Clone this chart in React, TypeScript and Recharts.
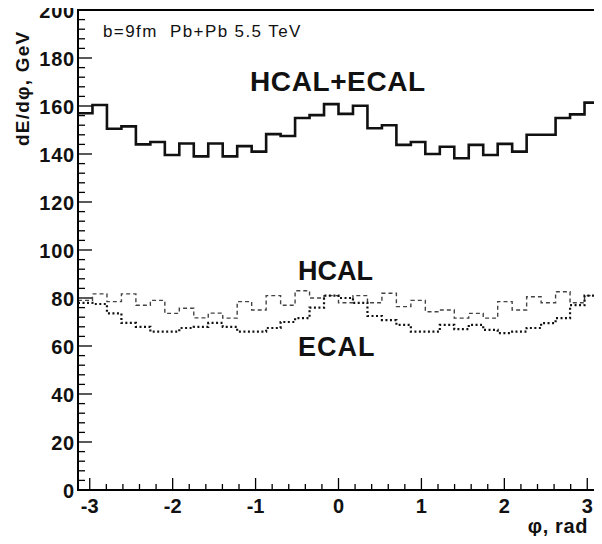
import React from 'react';
import { LineChart, Line, XAxis, YAxis, ReferenceArea } from 'recharts';

// energy flow per 10-degree azimuthal bin, phi from -pi to pi
const TOTAL = [
  157, 160.4, 150.5, 151.5, 144, 145, 139.6, 144.4, 139, 144.4, 139, 143.3,
  141, 148.3, 147.5, 155, 156.2, 160.8, 156.7, 160.1, 150.7, 152, 143.8, 145,
  140, 143, 138.2, 143.8, 139.6, 144.2, 141, 148, 148, 155, 156.5, 161.4,
];
const HCAL = [
  79, 81.7, 78.5, 81.7, 77, 79, 73.6, 75.7, 71.7, 73.7, 71.6, 78.5,
  75, 81, 77, 83, 80, 81, 78, 81, 78, 82, 76.4, 79,
  74.3, 75, 71.6, 73.6, 71.6, 78.5, 75, 80.5, 78, 82.6, 78, 81,
];
const ECAL = [
  78, 77.5, 73.6, 69.6, 68, 66, 66, 67.5, 68, 69.6, 68, 66,
  66, 67.5, 70, 71.6, 76, 81, 80, 78, 72.5, 70.8, 68.8, 66,
  66, 68.8, 67, 68.8, 66.7, 65.4, 66, 67.5, 69.5, 71.6, 77, 81,
];

const PHI_MIN = -Math.PI;
const PHI_MAX = Math.PI;
const X_MAJOR = [-3, -2, -1, 0, 1, 2, 3];
const Y_MAJOR = [0, 20, 40, 60, 80, 100, 120, 140, 160, 180, 200];

const FONT = '"Liberation Sans", Arial, Helvetica, sans-serif';

const binWidth = (PHI_MAX - PHI_MIN) / TOTAL.length;
const last = TOTAL.length - 1;
const data = TOTAL.map((v, i) => ({
  phi: PHI_MIN + i * binWidth,
  total: v,
  hcal: HCAL[i],
  ecal: ECAL[i],
}));
// closing edge so the last bin gets its horizontal step
data.push({ phi: PHI_MAX, total: TOTAL[last], hcal: HCAL[last], ecal: ECAL[last] });

// ROOT-style minor divisions
const xTicks: number[] = [];
for (let i = -15; i <= 15; i++) xTicks.push(i / 5);
const yTicks: number[] = [];
for (let v = 0; v <= 200; v += 4) yTicks.push(v);

const XTick = (props: any) => {
  const { x, y, payload } = props;
  const v = payload.value;
  const major = X_MAJOR.includes(v);
  return (
    <g>
      <line x1={x} x2={x} y1={y} y2={y - (major ? 12 : 6)} stroke="#000" strokeWidth={1.3} />
      {major && (
        <text x={x} y={y + 23} textAnchor="middle" fontFamily={FONT} fontWeight="bold" fontSize={20} fill="#111">
          {String(v)}
        </text>
      )}
    </g>
  );
};

const YTick = (props: any) => {
  const { x, y, payload } = props;
  const v = payload.value;
  const major = Y_MAJOR.includes(v);
  return (
    <g>
      <line x1={x} x2={x + (major ? 14 : 7)} y1={y} y2={y} stroke="#000" strokeWidth={1.3} />
      {major && (
        <text x={x - 3} y={y + 8} textAnchor="end" fontFamily={FONT} fontWeight="bold" fontSize={20} letterSpacing={0.8} fill="#111">
          {v}
        </text>
      )}
    </g>
  );
};

const tag = (pos: any, size: number, bold: boolean, text: string, extra: any = {}) => (
  <div
    style={{
      position: 'absolute',
      ...pos,
      fontFamily: FONT,
      fontSize: size,
      fontWeight: bold ? 'bold' : 'normal',
      lineHeight: 1,
      whiteSpace: 'pre',
      color: '#111',
      ...extra,
    }}
  >
    {text}
  </div>
);

export default function App() {
  return (
    <div style={{ position: 'relative', width: 602, height: 544, margin: -8, background: '#fff' }}>
      <LineChart width={602} height={544} data={data} margin={{ top: 10, right: 3, left: 16, bottom: 0 }}>
        <XAxis
          dataKey="phi"
          type="number"
          domain={[PHI_MIN, PHI_MAX]}
          ticks={xTicks}
          interval={0}
          height={54}
          tickSize={0}
          tickMargin={0}
          tickLine={false}
          axisLine={{ stroke: '#000', strokeWidth: 2 }}
          tick={XTick}
          allowDataOverflow
        />
        <YAxis
          type="number"
          domain={[0, 200]}
          ticks={yTicks}
          interval={0}
          width={62}
          tickSize={0}
          tickMargin={0}
          tickLine={false}
          axisLine={{ stroke: '#000', strokeWidth: 2 }}
          tick={YTick}
          allowDataOverflow
        />
        <ReferenceArea
          x1={PHI_MIN}
          x2={PHI_MAX}
          y1={0}
          y2={200}
          fill="none"
          fillOpacity={0}
          stroke="#000"
          strokeWidth={2}
        />
        <Line
          type="stepAfter"
          dataKey="total"
          stroke="#111"
          strokeWidth={2.6}
          dot={false}
          isAnimationActive={false}
        />
        <Line
          type="stepAfter"
          dataKey="hcal"
          stroke="#444"
          strokeWidth={1.4}
          strokeDasharray="4 3"
          dot={false}
          isAnimationActive={false}
        />
        <Line
          type="stepAfter"
          dataKey="ecal"
          stroke="#111"
          strokeWidth={2.2}
          strokeDasharray="2 2.5"
          dot={false}
          isAnimationActive={false}
        />
      </LineChart>

      {tag({ top: 23, left: 103 }, 17, false, 'b=9fm  Pb+Pb 5.5 TeV', { letterSpacing: 1.4 })}
      {tag({ top: 68, left: 250 }, 28, true, 'HCAL+ECAL', { letterSpacing: 0.6 })}
      {tag({ top: 258, left: 298 }, 27, true, 'HCAL')}
      {tag({ top: 334, left: 298 }, 27, true, 'ECAL', { letterSpacing: 1 })}
      {tag({ top: 516, right: 14 }, 20, true, 'φ, rad', { letterSpacing: 0.6 })}
      {tag({ top: 146, left: 13 }, 19, true, 'dE/dφ, GeV', {
        transform: 'rotate(-90deg)',
        transformOrigin: 'left top',
        letterSpacing: 1.2,
      })}
    </div>
  );
}
